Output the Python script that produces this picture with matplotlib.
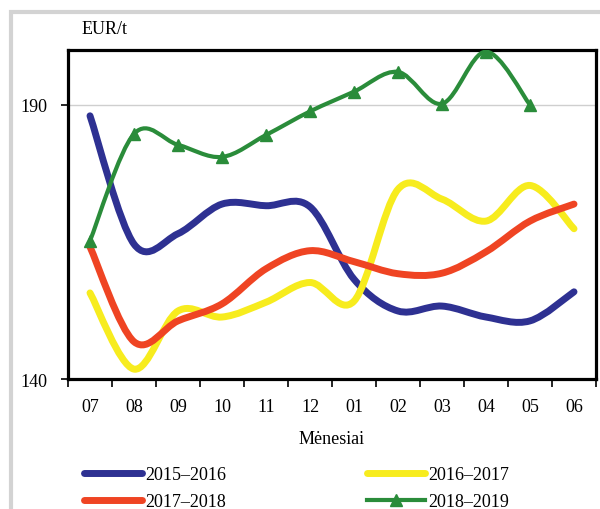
import matplotlib
matplotlib.use('Agg')
import matplotlib.pyplot as plt
from matplotlib.path import Path
from matplotlib.patches import PathPatch, Rectangle
from matplotlib.lines import Line2D

plt.rcParams['font.family'] = ['Liberation Serif', 'DejaVu Serif']

months = ['07', '08', '09', '10', '11', '12', '01', '02', '03', '04', '05', '06']
s2015_2016 = [188.0, 164.6, 166.5, 171.9, 171.6, 171.4, 158.2, 152.4, 153.3, 151.3, 150.6, 155.9]
s2016_2017 = [155.7, 141.8, 152.4, 151.3, 154.0, 157.6, 154.2, 174.6, 172.8, 168.8, 175.3, 167.4]
s2017_2018 = [164.1, 146.8, 150.6, 153.7, 160.1, 163.4, 161.4, 159.2, 159.3, 163.2, 168.8, 171.9]
s2018_2019 = [165.2, 184.7, 182.7, 180.5, 184.5, 188.8, 192.4, 196.0, 190.2, 199.7, 190.0]
labels = ['2015–2016', '2016–2017', '2017–2018', '2018–2019']
colors = ['#2E3192', '#F7EC1E', '#EF4423', '#2A8C3A']


def smooth_path(xs, ys):
    pts = list(zip(xs, ys))
    n = len(pts)
    verts = [pts[0]]
    codes = [Path.MOVETO]
    for i in range(n - 1):
        p0 = pts[i - 1] if i > 0 else pts[i]
        p1 = pts[i]
        p2 = pts[i + 1]
        p3 = pts[i + 2] if i + 2 < n else pts[i + 1]
        c1 = (p1[0] + (p2[0] - p0[0]) / 6, p1[1] + (p2[1] - p0[1]) / 6)
        c2 = (p2[0] - (p3[0] - p1[0]) / 6, p2[1] - (p3[1] - p1[1]) / 6)
        verts += [c1, c2, p2]
        codes += [Path.CURVE4] * 3
    return Path(verts, codes)


fig = plt.figure(figsize=(6.0, 5.1), dpi=100)
W, H = 600, 510
ax = fig.add_axes([68 / W, 1 - 380 / H, 528 / W, (380 - 51) / H])

series = [s2015_2016, s2016_2017, s2017_2018, s2018_2019]
widths = [5.0, 5.0, 5.0, 3.0]
for vals, col, lw in zip(series, colors, widths):
    xs = list(range(len(vals)))
    patch = PathPatch(smooth_path(xs, vals), fill=False, edgecolor=col, lw=lw,
                      capstyle='round', joinstyle='round', zorder=3)
    ax.add_patch(patch)
ax.plot(range(len(s2018_2019)), s2018_2019, ls='none', marker='^', ms=9,
        color=colors[3], zorder=4)

ax.set_xlim(-0.5, 11.5)
ax.set_ylim(140, 200)
ax.set_yticks([140, 190])
ax.set_yticklabels(['140', '190'])
ax.set_xticks(range(12))
ax.set_xticklabels(months)
ax.set_xticks([i - 0.5 for i in range(13)], minor=True)
ax.tick_params(axis='x', which='major', length=0, pad=14, labelsize=13)
ax.tick_params(axis='x', which='minor', length=6, width=1.2, direction='out')
ax.tick_params(axis='y', length=5, width=1.2, direction='out', pad=10, labelsize=13)
ax.axhline(190, color='#cfcfcf', lw=1.0, zorder=1)
for sp in ax.spines.values():
    sp.set_linewidth(2.3)
    sp.set_color('black')

fig.text(82 / W, 1 - 30 / H, 'EUR/t', fontsize=13, va='center', ha='left')
fig.text(332 / W, 1 - 440 / H, 'Mėnesiai', fontsize=13, va='center', ha='center')

handles = [Line2D([], [], color=colors[0], lw=5, solid_capstyle='round'),
           Line2D([], [], color=colors[2], lw=5, solid_capstyle='round'),
           Line2D([], [], color=colors[1], lw=5, solid_capstyle='round'),
           Line2D([], [], color=colors[3], lw=3, marker='^', ms=9)]
leg_labels = [labels[0], labels[2], labels[1], labels[3]]
fig.legend(handles, leg_labels, ncol=2, loc='upper left',
           bbox_to_anchor=(84 / W, 1 - 467 / H), frameon=False, fontsize=13,
           handlelength=3.2, handletextpad=0.2, columnspacing=7.8,
           labelspacing=0.55, borderpad=0, borderaxespad=0, numpoints=1)

fig.add_artist(Rectangle((11 / W, -0.1), 1.2, 1 - 13 / H + 0.1, transform=fig.transFigure,
                         fill=False, edgecolor='#d3d3d3', lw=3))

fig.savefig('out.png', dpi=100)
